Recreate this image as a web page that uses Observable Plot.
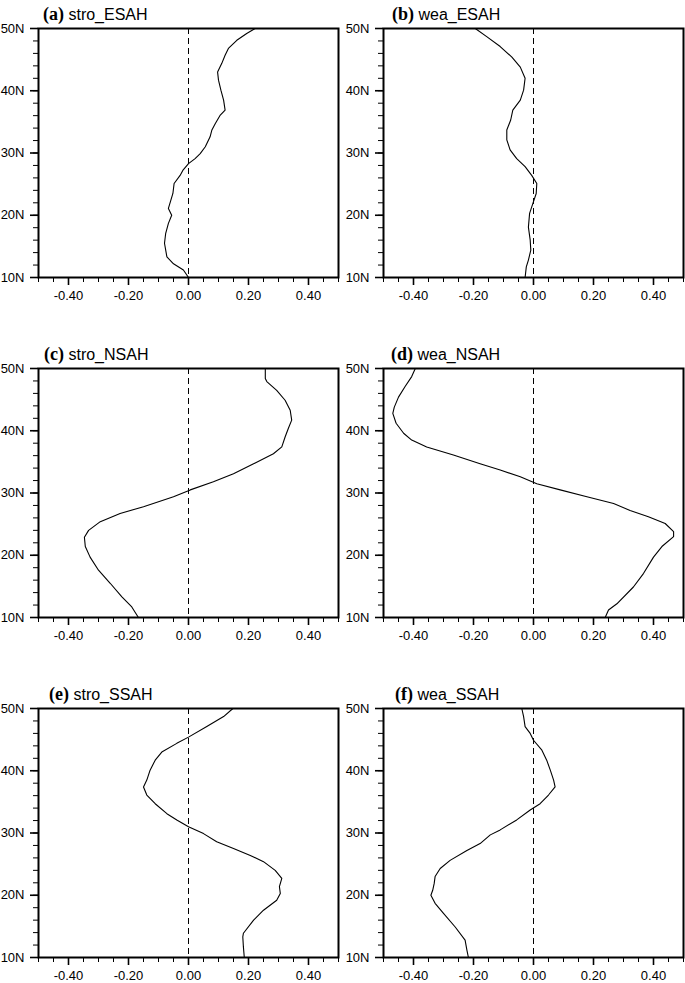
<!DOCTYPE html>
<html>
<head>
<meta charset="utf-8">
<script src="https://cdn.jsdelivr.net/npm/d3@7"></script>
<script src="https://cdn.jsdelivr.net/npm/@observablehq/plot@0.6"></script>
<style>
  html, body { margin: 0; padding: 0; background: #fff; }
  #wrap { position: relative; width: 685px; height: 983px; overflow: hidden; background: #fff; }
  .panel { position: absolute; }
  .ttl { position: absolute; white-space: nowrap; line-height: 20px; color: #000; }
  .ttl .lab { font-family: "Liberation Serif", "Times New Roman", serif; font-weight: bold; font-size: 18px; }
  .ttl .nm { font-family: "Liberation Sans", Arial, Helvetica, sans-serif; font-size: 16px; }
</style>
</head>
<body>
<div id="wrap"></div>
<script>
// ---- data ----
const panelLabels = ["(a)", "(b)", "(c)", "(d)", "(e)", "(f)"];
const panelNames = ["stro_ESAH", "wea_ESAH", "stro_NSAH", "wea_NSAH", "stro_SSAH", "wea_SSAH"];

const xTickValues = [-0.4, -0.2, 0, 0.2, 0.4];
const yTickValues = [10, 20, 30, 40, 50];

const stroESAH_lat = [50, 49.2, 48.1, 46.8, 45.7, 44.4, 43.0, 41.7, 40.1, 38.5, 36.9, 36.1, 34.7, 33.7, 32.6, 31.0, 29.9, 29.1, 28.3, 27.2, 26.4, 25.1, 23.5, 22.4, 21.1, 20.0, 18.7, 17.1, 15.5, 13.3, 12.2, 11.2, 10.0];
const stroESAH_val = [0.222, 0.194, 0.161, 0.133, 0.122, 0.111, 0.097, 0.100, 0.108, 0.117, 0.122, 0.106, 0.089, 0.078, 0.072, 0.056, 0.039, 0.022, 0.0, -0.019, -0.028, -0.048, -0.052, -0.059, -0.067, -0.056, -0.067, -0.076, -0.080, -0.072, -0.050, -0.017, 0.0];

const weaESAH_lat = [50, 48.7, 47.1, 45.4, 43.8, 42.0, 40.1, 38.5, 36.9, 35.3, 33.7, 32.1, 30.5, 29.1, 27.8, 26.4, 25.1, 23.5, 21.9, 20.3, 18.1, 16.0, 14.4, 12.8, 11.7, 10];
const weaESAH_val = [-0.194, -0.156, -0.111, -0.072, -0.044, -0.028, -0.033, -0.044, -0.069, -0.076, -0.089, -0.089, -0.078, -0.056, -0.028, -0.006, 0.011, 0.009, -0.002, -0.013, -0.017, -0.011, -0.009, -0.017, -0.024, -0.028];

const stroNSAH_lat = [50, 48.4, 47.9, 46.5, 44.9, 43.3, 41.7, 40.4, 39.0, 37.4, 36.3, 34.7, 33.1, 31.8, 30.5, 29.4, 27.8, 26.7, 25.4, 24.0, 22.9, 21.4, 19.7, 17.6, 15.5, 13.3, 11.7, 10];
const stroNSAH_val = [0.256, 0.256, 0.261, 0.294, 0.322, 0.339, 0.344, 0.333, 0.322, 0.311, 0.283, 0.217, 0.150, 0.083, 0.006, -0.050, -0.150, -0.228, -0.294, -0.333, -0.347, -0.344, -0.328, -0.300, -0.261, -0.222, -0.189, -0.167];

const weaNSAH_lat = [50, 48.7, 47.1, 45.4, 43.8, 42.8, 41.2, 39.6, 38.5, 37.4, 36.1, 34.7, 33.7, 32.6, 31.5, 30.5, 29.4, 28.3, 27.2, 26.2, 25.1, 23.8, 23.0, 21.4, 19.7, 17.1, 14.9, 12.2, 11.2, 10];
const weaNSAH_val = [-0.394, -0.406, -0.428, -0.450, -0.464, -0.469, -0.458, -0.433, -0.406, -0.356, -0.267, -0.178, -0.111, -0.044, 0.011, 0.089, 0.178, 0.267, 0.322, 0.383, 0.439, 0.467, 0.467, 0.428, 0.400, 0.367, 0.333, 0.278, 0.250, 0.239];

const stroSSAH_lat = [50, 48.7, 47.1, 45.4, 44.4, 43.0, 41.7, 40.1, 38.5, 37.4, 36.1, 34.7, 33.1, 32.1, 31.0, 29.9, 28.6, 27.5, 26.4, 25.4, 24.0, 22.7, 21.4, 20.3, 19.2, 17.6, 16.0, 13.9, 13.3, 11.7, 10];
const stroSSAH_val = [0.148, 0.117, 0.061, 0.0, -0.039, -0.089, -0.111, -0.128, -0.139, -0.150, -0.139, -0.111, -0.072, -0.039, 0.0, 0.050, 0.094, 0.150, 0.206, 0.250, 0.289, 0.311, 0.303, 0.306, 0.294, 0.250, 0.217, 0.183, 0.181, 0.183, 0.186];

const weaSSAH_lat = [50, 48.7, 47.1, 46.0, 44.9, 43.3, 41.7, 40.1, 38.5, 37.4, 36.1, 34.7, 33.7, 32.1, 30.5, 29.7, 28.3, 27.2, 25.6, 24.3, 23.0, 21.9, 20.8, 20.0, 18.7, 17.1, 14.9, 12.8, 11.2, 10];
const weaSSAH_val = [-0.039, -0.033, -0.028, -0.011, 0.0, 0.028, 0.044, 0.056, 0.067, 0.072, 0.050, 0.022, -0.011, -0.056, -0.111, -0.144, -0.178, -0.222, -0.278, -0.311, -0.328, -0.331, -0.336, -0.342, -0.328, -0.300, -0.261, -0.228, -0.222, -0.217];

const seriesLat = [stroESAH_lat, weaESAH_lat, stroNSAH_lat, weaNSAH_lat, stroSSAH_lat, weaSSAH_lat];
const seriesVal = [stroESAH_val, weaESAH_val, stroNSAH_val, weaNSAH_val, stroSSAH_val, weaSSAH_val];

// ---- layout ----
const wrap = document.getElementById("wrap");
const titleLeft = [43, 392, 44, 391, 49, 395];
const mTop = 4, mBottom = 26, frameH = 249, frameW = 300;
const xMinor = d3.range(-10, 11).map(i => i * 0.05);
const yMinor = d3.range(10, 51, 2);

for (let i = 0; i < 6; i++) {
  const row = Math.floor(i / 2), col = i % 2;
  const frameTop = 28 + row * 340;
  const frameLeft = col === 0 ? 38 : 383;
  const svgLeft = col === 0 ? 0 : 345;
  const mLeft = frameLeft - svgLeft;
  const width = col === 0 ? 345 : 340;
  const mRight = width - mLeft - frameW;
  const data = seriesLat[i].map((lat, k) => ({lat, v: seriesVal[i][k]}));

  const chart = Plot.plot({
    width, height: mTop + frameH + mBottom,
    marginLeft: mLeft, marginRight: mRight, marginTop: mTop, marginBottom: mBottom,
    x: {domain: [-0.5, 0.5], label: null},
    y: {domain: [10, 50], label: null},
    style: {fontFamily: '"Liberation Sans", Arial, Helvetica, sans-serif', fontSize: "13px", color: "black", background: "transparent", overflow: "visible"},
    marks: [
      Plot.ruleX([0], {stroke: "black", strokeWidth: 1, strokeDasharray: "6,4"}),
      Plot.line(data, {x: "v", y: "lat", stroke: "black", strokeWidth: 1.1}),
      Plot.axisX(xMinor, {tickSize: 5, tickFormat: () => "", strokeWidth: 1}),
      Plot.axisX(xTickValues, {tickSize: 8, tickPadding: 5, strokeWidth: 1.6, tickFormat: d => d.toFixed(2)}),
      Plot.axisY(yMinor, {tickSize: 5, tickFormat: () => "", strokeWidth: 1}),
      Plot.axisY(yTickValues, {tickSize: 8, tickPadding: 6, strokeWidth: 1.6, tickFormat: d => d + "N"}),
      Plot.frame({stroke: "black", strokeWidth: 2})
    ]
  });
  chart.classList.add("panel");
  chart.style.left = svgLeft + "px";
  chart.style.top = (frameTop - mTop) + "px";
  wrap.appendChild(chart);

  const t = document.createElement("div");
  t.className = "ttl";
  t.style.left = titleLeft[i] + "px";
  t.style.top = (frameTop - 24) + "px";
  const a = document.createElement("span"); a.className = "lab"; a.textContent = panelLabels[i];
  const b = document.createElement("span"); b.className = "nm"; b.textContent = " " + panelNames[i];
  t.appendChild(a); t.appendChild(b);
  wrap.appendChild(t);
}
</script>
</body>
</html>
